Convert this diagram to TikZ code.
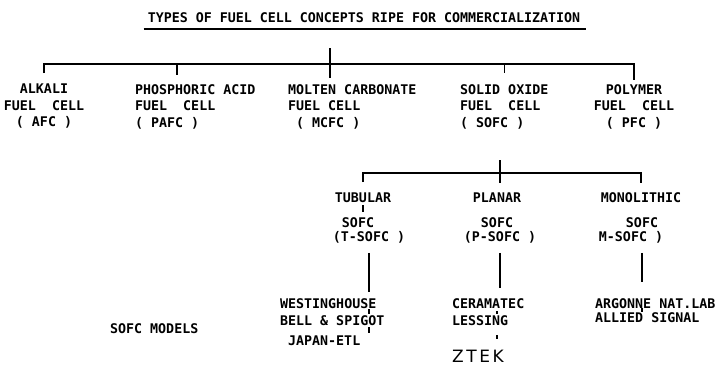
\documentclass[tikz,border=0pt]{standalone}
\usepackage{fontspec}
\usepackage{tikz}
\usetikzlibrary{calc}
\newfontfamily\chartfont{DejaVu Sans Mono}
\newfontfamily\ztekfont[LetterSpace=15]{DejaVu Sans}
\tikzset{
  chart/.style={font=\chartfont\bfseries\fontsize{13.3}{16.5}\selectfont, inner sep=0pt},
  cell/.style={chart, anchor=north},
  sub/.style={chart, anchor=base},
  bar/.style={line width=1.4pt},
  tick/.style={line width=1.3pt}
}

\begin{document}
\begin{tikzpicture}[x=1pt, y=-1pt]
  \useasboundingbox[fill=white] (0,0) rectangle (726,368);

  % Title
  \node[chart] (title) at (364,18) {TYPES OF FUEL CELL CONCEPTS RIPE FOR COMMERCIALIZATION};
  \draw[line width=1.6pt] ([xshift=-4pt,yshift=-6pt]title.south west) -- ([xshift=6pt,yshift=-6pt]title.south east);

  % Fuel cell types
  \node[cell, align=center] (afc) at (44,84) {ALKALI\\FUEL\ \ CELL\\( AFC )};
  \node[cell, align=left, anchor=north west] (pafc) at (135,84) {PHOSPHORIC ACID\\FUEL\ \ CELL\\( PAFC )};
  \node[cell, align=left, anchor=north west] (mcfc) at (288,84) {MOLTEN CARBONATE\\FUEL CELL\\\ ( MCFC )};
  \node[cell, align=left, anchor=north west] (sofc) at (460,84) {SOLID OXIDE\\FUEL\ \ CELL\\( SOFC )};
  \node[cell, align=center] (pfc) at (634,84) {POLYMER\\FUEL\ \ CELL\\( PFC )};

  % Branches
  \coordinate (root) at (330,48);
  \coordinate (hub) at (330,64);
  \coordinate (pafcdrop) at ($(pafc.north west)+(42,0)$);
  \draw[bar, shorten >=6pt] (root) -- (root |- mcfc.north);
  \draw[bar, shorten <=11pt, shorten >=4pt] (afc.north) |- (hub) -| (pfc.north);
  \draw[bar, shorten >=9pt] (hub -| pafcdrop) -- (pafcdrop);
  \draw[bar, shorten >=11pt] (hub -| sofc.north) -- (sofc.north);

  % SOFC designs
  \node[sub] (tub) at (363,202) {TUBULAR};
  \node[sub] (tubs) at (358,227) {SOFC};
  \node[sub] (tubt) at (369,241) {(T-SOFC )};
  \node[sub] (plan) at (497,202) {PLANAR};
  \node[sub] (plans) at (497,227) {SOFC};
  \node[sub] (plant) at (500,241) {(P-SOFC )};
  \node[sub] (mono) at (641,202) {MONOLITHIC};
  \node[sub] (monos) at (642,227) {SOFC};
  \node[sub] (monot) at (631,241) {M-SOFC )};

  \coordinate (subroot) at (500,160);
  \coordinate (subhub) at (500,173);
  \draw[bar, shorten >=9pt] (subroot) -- (subroot |- plan.north);
  \draw[bar, shorten <=10pt, shorten >=9pt] (tub.north) |- (subhub) -| (mono.north);
  \draw[tick, shorten <=3pt, shorten >=5pt] (tub.south) -- (tub.south |- tubs.north);

  % Models
  \node[sub, anchor=base west] (west) at (280,308) {WESTINGHOUSE};
  \node[sub, anchor=base west] (bell) at (280,325) {BELL \& SPIGOT};
  \node[sub, anchor=base west] (japan) at (288,345) {JAPAN-ETL};
  \node[sub, anchor=base west] (cera) at (452,308) {CERAMATEC};
  \node[sub, anchor=base west] (less) at (452,325) {LESSING};
  \node[sub, anchor=base west, font=\ztekfont\fontsize{17}{20}\selectfont] (ztek) at (452,362) {ZTEK};
  \node[sub, anchor=base west] (argo) at (595,308) {ARGONNE NAT.LAB};
  \node[sub, anchor=base west] (alli) at (595,322) {ALLIED SIGNAL};
  \node[sub, anchor=base west] (models) at (110,333) {SOFC MODELS};

  \draw[bar, shorten <=10pt, shorten >=6pt] (tubt.south) -- (tubt.south |- west.north);
  \draw[bar, shorten <=10pt, shorten >=10pt] (plant.south) -- (plant.south |- cera.north);
  \draw[bar, shorten <=10pt, shorten >=16pt] (monos.south |- monot.south) -- (monos.south |- argo.north);

  \draw[tick, shorten <=1pt, shorten >=1pt] (west.south -| tubt.south) -- (bell.north -| tubt.south);
  \draw[tick, shorten <=2pt, shorten >=2pt] (bell.south -| tubt.south) -- (japan.north -| tubt.south);
  \draw[tick, shorten <=3pt, shorten >=1pt] (cera.south -| plans) -- (less.north -| plans);
  \draw[tick, shorten <=10pt, shorten >=10pt] (less.south -| plans) -- (ztek.north -| plans);
  \draw[tick] (argo.south -| monos) -- (alli.north -| monos);
\end{tikzpicture}
\end{document}
